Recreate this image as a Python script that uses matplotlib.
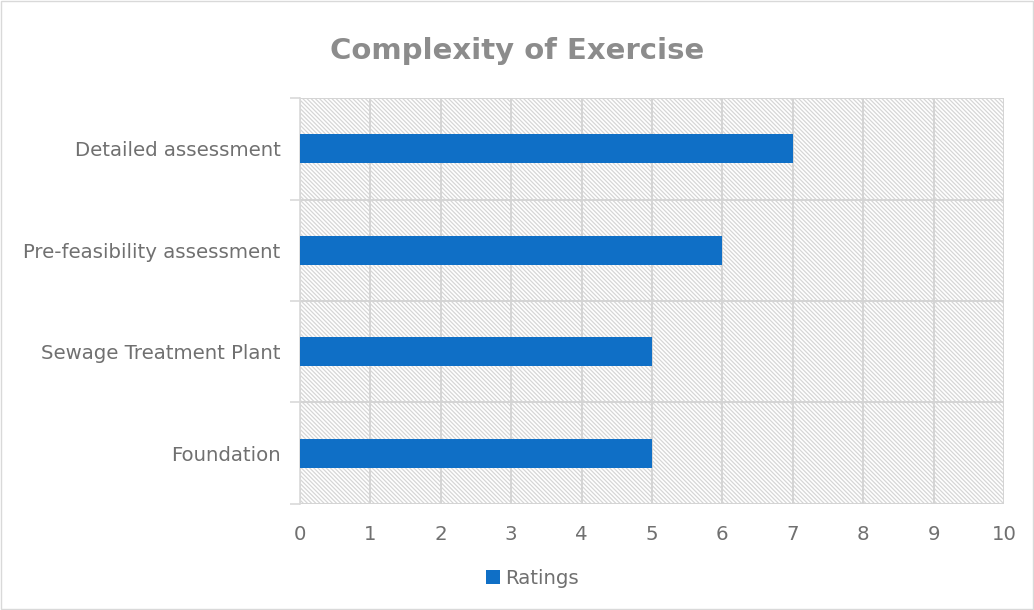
import matplotlib.pyplot as plt
import matplotlib.patches as mpatches

categories = ['Foundation', 'Sewage Treatment Plant', 'Pre-feasibility assessment', 'Detailed assessment']
ratings = [5, 5, 6, 7]
xticks = list(range(0, 11))

plt.rcParams['font.family'] = ['DejaVu Sans']
plt.rcParams['hatch.color'] = '#d6d6d6'
plt.rcParams['hatch.linewidth'] = 0.9

fig = plt.figure(figsize=(10.34, 6.10), dpi=100)
ax = fig.add_axes([0.2901, 0.1738, 0.6808, 0.6655])

# hatched plot background
bg = mpatches.Rectangle((0, 0), 1, 1, transform=ax.transAxes, facecolor='white',
                        edgecolor='#d6d6d6', hatch='\\' * 8, linewidth=0, zorder=0)
ax.add_patch(bg)

ypos = range(len(categories))
ax.barh(ypos, ratings, height=0.29, color='#0F6FC6', label='Ratings', zorder=3)

ax.set_xlim(0, 10)
ax.set_ylim(-0.5, len(categories) - 0.5)
ax.set_xticks(xticks)
ax.set_yticks(list(ypos))
ax.set_yticklabels(categories)
ax.set_yticks([i - 0.5 for i in range(len(categories) + 1)], minor=True)

ax.grid(True, axis='x', color='#d4d4d4', linewidth=1.4, zorder=1)
ax.grid(True, axis='y', which='minor', color='#d4d4d4', linewidth=1.4, zorder=1)
ax.tick_params(axis='y', which='major', length=0, pad=14, labelsize=14.2, labelcolor='#707070')
ax.tick_params(axis='y', which='minor', length=7, color='#d9d9d9', width=1.2)
ax.tick_params(axis='x', length=0, pad=15, labelsize=14.2, labelcolor='#707070')

for side in ['top', 'right', 'bottom']:
    ax.spines[side].set_visible(False)
ax.spines['left'].set_color('#d9d9d9')
ax.spines['left'].set_linewidth(1.2)

fig.suptitle('Complexity of Exercise', y=0.94, fontsize=21, fontweight='bold', color='#8c8c8c')
fig.legend(loc='center', bbox_to_anchor=(0.515, 0.052), frameon=False, fontsize=14.2,
           labelcolor='#707070', handlelength=0.7, handleheight=0.7, handletextpad=0.3)

border = mpatches.Rectangle((0.001, 0.001), 0.998, 0.998, transform=fig.transFigure,
                            fill=False, edgecolor='#d9d9d9', linewidth=1)
fig.patches.append(border)

fig.savefig('out.png', dpi=100)
